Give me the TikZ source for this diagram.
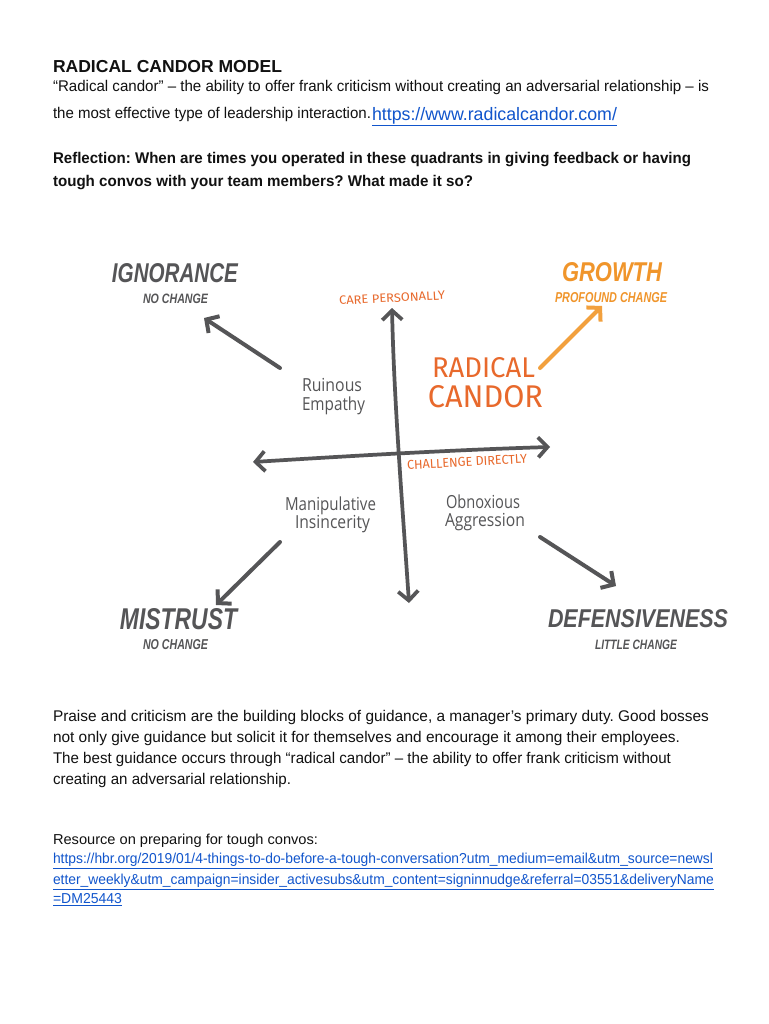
\documentclass[tikz,border=0pt]{standalone}
\usepackage{fontspec}
\usepackage{graphicx}
\setmainfont{Liberation Sans}
\newfontfamily\handfont{Open Sans}
\newfontfamily\markfont{Fira Sans}
\usetikzlibrary{arrows.meta}
\newlength\pxu \setlength\pxu{0.75pt}
\newcommand\fitpx[2]{\resizebox{#1\pxu}{\height}{#2}}
\newcommand\boxpx[3]{\resizebox{#1\pxu}{#2\pxu}{#3}}
\definecolor{dgray}{HTML}{555557}
\definecolor{rcorange}{HTML}{E8692C}
\definecolor{grorange}{HTML}{F0952B}
\definecolor{arorange}{HTML}{F2A03D}
\definecolor{linkblue}{HTML}{1155CC}
\definecolor{bodyblack}{HTML}{111111}
\frenchspacing
\begin{document}
\begin{tikzpicture}[x=0.75pt,y=-0.75pt,
  txt/.style={anchor=base west,inner sep=0pt,outer sep=0pt,text=bodyblack,font=\fontsize{11.6}{14}\selectfont},
  boldtxt/.style={txt,font=\fontsize{11.6}{14}\selectfont\bfseries},
  smalltxt/.style={txt,font=\fontsize{10.8}{13}\selectfont},
  linktxt/.style={txt,text=linkblue,font=\fontsize{10.8}{13}\selectfont},
  lbl/.style={inner sep=0pt,outer sep=0pt},
  outcome/.style={lbl,text=dgray,font=\bfseries\itshape},
  outsub/.style={lbl,text=dgray,font=\bfseries\itshape},
  goutcome/.style={lbl,text=grorange,font=\bfseries\itshape},
  gsub/.style={lbl,text=grorange,font=\bfseries\itshape},
  axislbl/.style={lbl,text=rcorange,font=\markfont},
  radlbl/.style={lbl,text=rcorange,font=\markfont},
  quad/.style={lbl,anchor=base,text=dgray,font=\handfont\fontsize{13.5}{15}\selectfont},
  axisline/.style={line width=2.8pt,draw=dgray,line cap=round,
    {Straight Barb[length=7pt,width=15pt]}-{Straight Barb[length=7pt,width=15pt]}},
  outarrow/.style={line width=3pt,draw=dgray,line cap=round,-{Straight Barb[length=7pt,width=15pt]}},
  grarrow/.style={line width=3pt,draw=arorange,line cap=round,-{Straight Barb[length=7pt,width=15pt]}}
]
\useasboundingbox[fill=white] (0,0) rectangle (768,1024);

% ---------- header text ----------
\node[boldtxt,font=\fontsize{13}{15}\selectfont\bfseries] (title) at (53,73) {\fitpx{229}{RADICAL CANDOR MODEL}};
\node[txt] (intro1) at (53,92) {\fitpx{656}{“Radical candor” – the ability to offer frank criticism without creating an adversarial relationship – is}};
\node[txt] (intro2) at (53,118) {\fitpx{318}{the most effective type of leadership interaction.}};
\node[txt,text=linkblue,font=\fontsize{13.5}{15}\selectfont] (link1) at (372,120) {\fitpx{245}{\underline{https://www.radicalcandor.com/}}};
\node[boldtxt] (refl1) at (53,163) {\fitpx{638}{Reflection: When are times you operated in these quadrants in giving feedback or having}};
\node[boldtxt] (refl2) at (53,186) {\fitpx{420}{tough convos with your team members? What made it so?}};

% ---------- diagram: axes ----------
\coordinate (vtop) at (392,308);
\coordinate (vbot) at (409,603);
\coordinate (hleft) at (253,462);
\coordinate (hright) at (550,447);
\draw[axisline] (vbot) .. controls (402,500) and (394,400) .. (vtop);
\draw[axisline] (hleft) .. controls (350,456) and (450,450) .. (hright);

\node[axislbl,rotate=3] (care) at (392,298) {\boxpx{106}{8.5}{CARE PERSONALLY}};
\node[axislbl,rotate=3] (chal) at (467,462) {\boxpx{120}{9}{CHALLENGE DIRECTLY}};

% ---------- outcomes ----------
\node[outcome] (ign) at (175,273.5) {\boxpx{126}{19}{IGNORANCE}};
\node[outsub] (ignsub) at (175.5,298.5) {\boxpx{65}{9.5}{NO CHANGE}};
\node[goutcome] (grow) at (612,272.5) {\boxpx{100}{19}{GROWTH}};
\node[gsub] (growsub) at (611,298) {\boxpx{112}{10}{PROFOUND CHANGE}};
\node[outcome] (mis) at (178.5,619) {\boxpx{117}{21}{MISTRUST}};
\node[outsub] (missub) at (175.5,644.5) {\boxpx{65}{10}{NO CHANGE}};
\node[outcome] (def) at (638,619) {\boxpx{180}{18}{DEFENSIVENESS}};
\node[outsub] (defsub) at (636,644.5) {\boxpx{82}{9.5}{LITTLE CHANGE}};

% ---------- radical candor ----------
\node[radlbl] (rad1) at (483.5,368) {\boxpx{103}{20}{RADICAL}};
\node[radlbl] (rad2) at (485.5,397) {\boxpx{115}{22}{CANDOR}};

% ---------- quadrant labels ----------
\node[quad] (ruinA) at (332,391.5) {\fitpx{60}{Ruinous}};
\node[quad] (ruinB) at (333.5,410) {\fitpx{63}{Empathy}};
\node[quad] (manA) at (330.5,510.5) {\fitpx{91}{Manipulative}};
\node[quad] (manB) at (332.5,528) {\fitpx{75}{Insincerity}};
\node[quad] (obnA) at (483,508) {\fitpx{74}{Obnoxious}};
\node[quad] (obnB) at (485,526) {\fitpx{80}{Aggression}};

% ---------- quadrant arrows ----------
\coordinate (ignS) at (280,368);
\coordinate (ignE) at (204,318);
\coordinate (groS) at (540,368);
\coordinate (groE) at (602,306);
\coordinate (misS) at (280,542);
\coordinate (misE) at (216,605);
\coordinate (defS) at (540,537);
\coordinate (defE) at (616,586);
\draw[outarrow] (ignS) -- (ignE);
\draw[grarrow] (groS) -- (groE);
\draw[outarrow] (misS) -- (misE);
\draw[outarrow] (defS) -- (defE);

% ---------- body text ----------
\node[txt] (body1) at (53,721) {\fitpx{656}{Praise and criticism are the building blocks of guidance, a manager’s primary duty. Good bosses}};
\node[txt] (body2) at (53,742) {\fitpx{627}{not only give guidance but solicit it for themselves and encourage it among their employees.}};
\node[txt] (body3) at (53,763) {\fitpx{618}{The best guidance occurs through “radical candor” – the ability to offer frank criticism without}};
\node[txt] (body4) at (53,784) {\fitpx{238}{creating an adversarial relationship.}};

\node[smalltxt] (res) at (53,844) {\fitpx{265}{Resource on preparing for tough convos:}};
\node[linktxt] (url1) at (53,863) {\fitpx{660}{\underline{https://hbr.org/2019/01/4-things-to-do-before-a-tough-conversation?utm\_medium=email\&utm\_source=newsl}}};
\node[linktxt] (url2) at (53,884) {\fitpx{661}{\underline{etter\_weekly\&utm\_campaign=insider\_activesubs\&utm\_content=signinnudge\&referral=03551\&deliveryName}}};
\node[linktxt] (url3) at (53,903) {\fitpx{69}{\underline{=DM25443}}};
\end{tikzpicture}
\end{document}
